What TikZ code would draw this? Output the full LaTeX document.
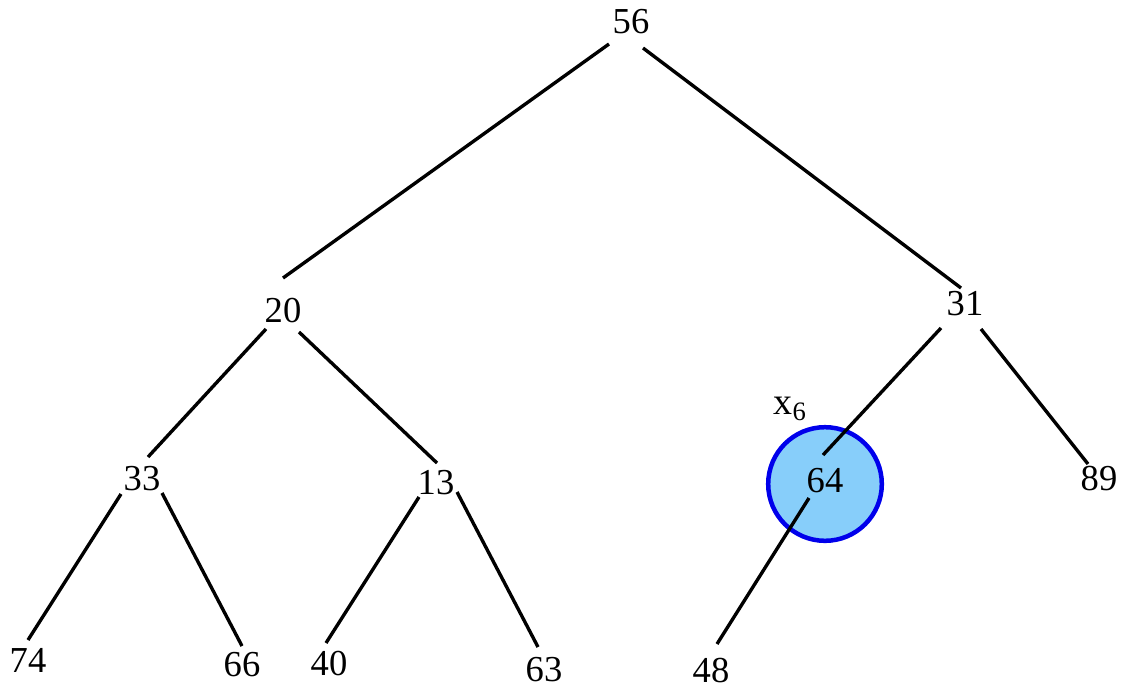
\documentclass[tikz,border=0pt]{standalone}
\usepackage{fontspec}
\setmainfont{Liberation Serif}
\usetikzlibrary{positioning}
\definecolor{markfill}{RGB}{135,206,250}
\definecolor{markline}{RGB}{0,0,235}

\begin{document}
\begin{tikzpicture}[
  x=0.025cm, y=-0.025cm,
  key/.style={inner sep=0pt, font=\fontsize{26}{30}\selectfont},
  mark ring/.style={circle, minimum size=2.84cm, fill=markfill,
                    draw=markline, line width=3.2pt},
  branch/.style={line width=2.4pt, black}
]
  \useasboundingbox (0,0) rectangle (1123,691);

  % Highlighted element
  \node[mark ring] (ring) at (825,484) {};
  \node[font=\fontsize{27}{30}\selectfont] (lbl) at (790,409) {x\textsubscript{6}};

  % Keys of the heap
  \node[key] (k56) at (631,22)  {56};
  \node[key] (k20) at (283,311) {20};
  \node[key] (k31) at (965,304) {31};
  \node[key] (k33) at (142,479) {33};
  \node[key] (k13) at (436,483) {13};
  \node[key] (k64) at (825,481) {64};
  \node[key] (k89) at (1099,479) {89};
  \node[key] (k74) at (28,660)  {74};
  \node[key] (k66) at (242,665) {66};
  \node[key] (k40) at (329,664) {40};
  \node[key] (k63) at (544,670) {63};
  \node[key] (k48) at (711,671) {48};

  % Parent--child links (offsets of the ends from the key centres)
  \foreach \a/\b/\sx/\sy/\ex/\ey in {56/20/-22/22/0/-33, 56/31/12/26/-4/-16,
      20/33/-17/18/6/-22, 20/13/16/21/1/-20, 31/64/-24/24/-2/-26,
      31/89/16/25/-11/-15, 33/74/-21/15/0/-20, 33/66/20/14/0/-19,
      13/40/-17/14/-3/-21, 13/63/21/9/-6/-23, 64/48/-16/17/6/-27}
    \draw[branch] ([shift={(\sx,\sy)}]k\a.center) -- ([shift={(\ex,\ey)}]k\b.center);
\end{tikzpicture}
\end{document}
